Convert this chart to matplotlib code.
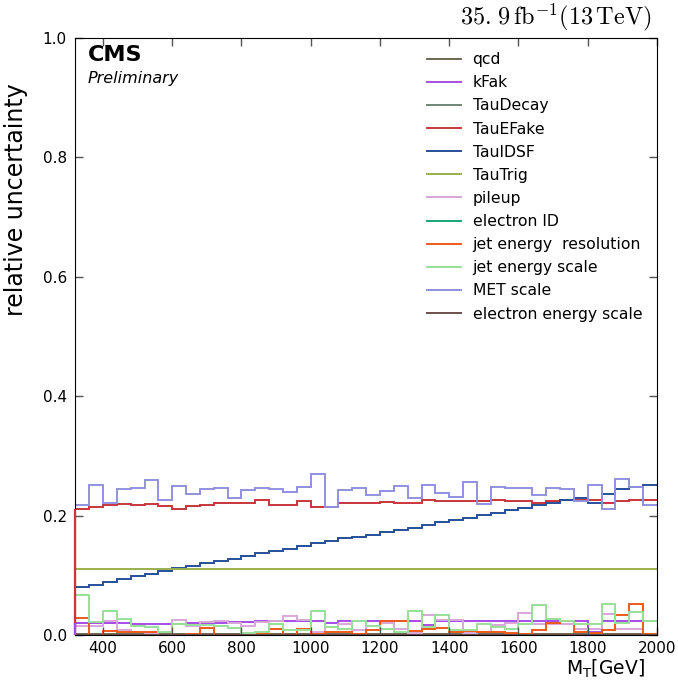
import matplotlib
matplotlib.use('Agg')
import matplotlib.pyplot as plt
import numpy as np

# bin edges in M_T (40 GeV bins)
edges = np.arange(320, 2001, 40)

qcd = [0.002] * 42
kfak = [0.020, 0.020, 0.021, 0.020, 0.019, 0.019, 0.018, 0.019, 0.021, 0.021,
        0.021, 0.022, 0.022, 0.023, 0.023, 0.023, 0.023, 0.023, 0.021, 0.023,
        0.023, 0.023, 0.023, 0.023, 0.023, 0.017, 0.023, 0.023, 0.023, 0.023,
        0.023, 0.023, 0.023, 0.023, 0.023, 0.023, 0.023, 0.005, 0.023, 0.023,
        0.023, 0.023]
taudecay = [0.001] * 42
tauefake = [0.212, 0.214, 0.218, 0.219, 0.218, 0.219, 0.217, 0.212, 0.217, 0.218,
            0.222, 0.222, 0.222, 0.227, 0.218, 0.218, 0.224, 0.214, 0.215, 0.222,
            0.222, 0.222, 0.223, 0.222, 0.221, 0.226, 0.224, 0.225, 0.224, 0.224,
            0.226, 0.225, 0.224, 0.222, 0.224, 0.226, 0.227, 0.226, 0.221, 0.225,
            0.226, 0.226]
tauidsf = [0.080, 0.084, 0.089, 0.094, 0.099, 0.103, 0.108, 0.112, 0.116, 0.120,
           0.124, 0.128, 0.132, 0.137, 0.141, 0.145, 0.149, 0.154, 0.158, 0.162,
           0.164, 0.168, 0.172, 0.176, 0.180, 0.185, 0.189, 0.193, 0.196, 0.201,
           0.205, 0.209, 0.213, 0.218, 0.222, 0.226, 0.229, 0.221, 0.236, 0.245,
           0.248, 0.251]
tautrig = [0.11] * 42
pileup = [0.015, 0.016, 0.024, 0.009, 0.006, 0.003, 0.005, 0.025, 0.016, 0.022,
          0.023, 0.021, 0.0145, 0.022, 0.023, 0.032, 0.025, 0.006, 0.013, 0.019,
          0.009, 0.016, 0.020, 0.011, 0.003, 0.034, 0.025, 0.025, 0.003, 0.005,
          0.017, 0.020, 0.037, 0.018, 0.018, 0.018, 0.011, 0.011, 0.036, 0.011,
          0.011, 0.023]
electron_id = [0.0] * 42
jer = [0.028, 0.001, 0.007, 0.0045, 0.006, 0.005, 0.006, 0.001, 0.002, 0.012,
       0.001, 0.0, 0.0, 0.003, 0.011, 0.001, 0.011, 0.002, 0.005, 0.0045,
       0.002, 0.009, 0.023, 0.024, 0.007, 0.011, 0.012, 0.005, 0.007, 0.0045,
       0.006, 0.003, 0.002, 0.009, 0.020, 0.023, 0.006, 0.003, 0.009, 0.034,
       0.052, 0.002]
jes = [0.068, 0.022, 0.041, 0.027, 0.0145, 0.013, 0.006, 0.018, 0.017, 0.017,
       0.016, 0.012, 0.003, 0.005, 0.018, 0.008, 0.008, 0.040, 0.013, 0.011,
       0.023, 0.016, 0.011, 0.005, 0.040, 0.013, 0.034, 0.008, 0.009, 0.019,
       0.013, 0.010, 0.019, 0.051, 0.027, 0.023, 0.018, 0.018, 0.052, 0.020,
       0.0385, 0.023]
met = [0.218, 0.252, 0.222, 0.244, 0.247, 0.260, 0.227, 0.250, 0.237, 0.244,
       0.247, 0.230, 0.243, 0.246, 0.245, 0.240, 0.248, 0.270, 0.215, 0.243,
       0.247, 0.235, 0.241, 0.250, 0.229, 0.251, 0.238, 0.231, 0.257, 0.219,
       0.248, 0.246, 0.247, 0.235, 0.246, 0.244, 0.225, 0.251, 0.211, 0.262,
       0.248, 0.218]
ees = [0.0] * 42

series = [
    ('qcd', qcd, '#6b6b55'),
    ('kFak', kfak, '#a64de8'),
    ('TauDecay', taudecay, '#6f8577'),
    ('TauEFake', tauefake, '#c8363c'),
    ('TauIDSF', tauidsf, '#264f9a'),
    ('TauTrig', tautrig, '#99b04f'),
    ('pileup', pileup, '#d8a8d8'),
    ('electron ID', electron_id, '#1aa67a'),
    ('jet energy  resolution', jer, '#ee5a1a'),
    ('jet energy scale', jes, '#98e09a'),
    ('MET scale', met, '#9090e0'),
    ('electron energy scale', ees, '#6e4f4f'),
]
colors = {name: col for name, _, col in series}

fig = plt.figure(figsize=(6.78, 6.80), dpi=100)
ax = fig.add_axes([0.111, 0.066, 0.858, 0.878])

for name, vals, col in series:
    ax.stairs(vals, edges, baseline=None, color=col, lw=1.4, label=name)

# rising edges at the low end of the histogram
ax.vlines(edges[0], 0, tauefake[0], color=colors['TauEFake'], lw=1.6,
          zorder=3, clip_on=False)
ax.vlines(edges[0], 0, kfak[0], color=colors['kFak'], lw=1.6,
          zorder=3, clip_on=False)

ax.set_xlim(320, 2000)
ax.set_ylim(0, 1.0)
ax.set_xticks(np.arange(400, 2001, 200))
ax.set_yticks(np.arange(0, 1.01, 0.2))
ax.tick_params(direction='in', top=True, right=True, length=6, width=1,
               color='#555555', labelsize=11, pad=6)
ax.tick_params(axis='x', pad=4.5)

fig.text(0.951, 0.016, r'$\mathrm{M_T}[\mathrm{GeV}]$', fontsize=13.5,
         ha='right', va='center')
ax.set_ylabel('relative uncertainty', fontsize=17)
ax.yaxis.set_label_coords(-0.082, 0.73)

ax.text(0.022, 0.988, 'CMS', transform=ax.transAxes, fontsize=16,
        fontweight='bold', va='top', ha='left')
ax.text(0.022, 0.933, 'Preliminary', transform=ax.transAxes, fontsize=11.5,
        style='italic', va='center', ha='left')

ax.text(0.991, 1.008, r'$35.\!\;9\,\mathrm{fb}^{-1}(13\,\mathrm{TeV})$',
        transform=ax.transAxes, fontsize=17.5, ha='right', va='bottom',
        math_fontfamily='cm')

ax.legend(loc='upper left', bbox_to_anchor=(0.581, 1.0), frameon=False,
          fontsize=11.25, labelspacing=0.52, handlelength=2.15,
          handletextpad=0.75)

fig.savefig('out.png', dpi=100)
